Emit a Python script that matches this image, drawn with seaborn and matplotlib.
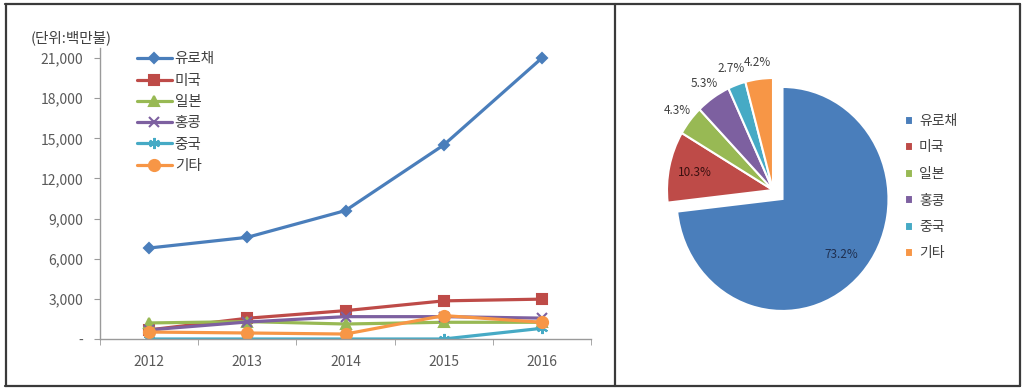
import matplotlib
matplotlib.use("Agg")
import matplotlib.pyplot as plt
from matplotlib.lines import Line2D
from matplotlib.ticker import FuncFormatter, FixedLocator
import numpy as np
import pandas as pd
import seaborn as sns

# Data (million USD)
years = ["2012", "2013", "2014", "2015", "2016"]
series_names = ["유로채", "미국", "일본", "홍콩", "중국", "기타"]
euro_bond = [6800, 7600, 9600, 14500, 21000]
usa = [680, 1550, 2120, 2850, 2980]
japan = [1200, 1300, 1120, 1250, 1250]
hongkong = [680, 1270, 1670, 1670, 1560]
china = [0, 0, 0, 0, 800]
others = [520, 450, 370, 1750, 1250]

# 2016 share (%)
share_labels = ["유로채", "미국", "일본", "홍콩", "중국", "기타"]
share_values = [73.2, 10.3, 4.3, 5.3, 2.7, 4.2]

COLORS = ["#4A7EBB", "#BE4B48", "#98B954", "#7D60A0", "#46AAC5", "#F79646"]
MARKERS = ["D", "s", "^", "x", (6, 2, 0), "o"]
MSIZES = [5, 7, 7, 7, 8, 8]

sns.set_style("white")
plt.rcParams["font.family"] = ["Noto Sans CJK KR", "DejaVu Sans"]

fig = plt.figure(figsize=(10.24, 3.92), dpi=100)

# ---- line chart ----
ax = fig.add_axes([100 / 1024, 1 - 339 / 392, 491 / 1024, 291 / 392])
df = pd.DataFrame(
    {
        "pos": np.tile(np.arange(len(years)), len(series_names)),
        "value": np.concatenate([euro_bond, usa, japan, hongkong, china, others]),
        "series": np.repeat(series_names, len(years)),
    }
)
for name, color, marker, ms in zip(series_names, COLORS, MARKERS, MSIZES):
    sub = df[df["series"] == name]
    sns.lineplot(
        data=sub, x="pos", y="value", ax=ax, color=color, linewidth=2.3,
        marker=marker, markersize=ms, markeredgecolor=color,
        markeredgewidth=1.5, label=name,
    )

ax.set_xlim(-0.5, len(years) - 0.5)
ax.set_ylim(0, 21750)
ax.set_xticks(range(len(years)))
ax.set_xticklabels(years)
ax.xaxis.set_minor_locator(FixedLocator(np.arange(-0.5, len(years), 1.0)))
ax.set_yticks(np.arange(0, 21001, 3000))
ax.yaxis.set_major_formatter(FuncFormatter(lambda v, p: "-" if v == 0 else f"{int(v):,}"))
ax.set_xlabel("")
ax.set_ylabel("")
for side in ["top", "right"]:
    ax.spines[side].set_visible(False)
for side in ["left", "bottom"]:
    ax.spines[side].set_color("#9A9A9A")
    ax.spines[side].set_linewidth(1.0)
ax.tick_params(axis="y", which="major", left=True, length=4, color="#9A9A9A",
               labelsize=10, labelcolor="#595959", pad=8)
ax.tick_params(axis="x", which="major", bottom=False, labelsize=10,
               labelcolor="#595959", pad=8)
ax.tick_params(axis="x", which="minor", bottom=True, length=4, color="#9A9A9A")
ax.legend(
    loc="upper left", bbox_to_anchor=(0.075, 0.985), frameon=False,
    fontsize=10.5, handlelength=2.4, handletextpad=0.2, labelspacing=0.5,
    borderpad=0, borderaxespad=0, labelcolor="#404040",
)
fig.text(31 / 1024, 1 - 38 / 392, "(단위:백만불)", fontsize=10.5,
         color="#404040", ha="left", va="center")

# ---- pie chart ----
pax = fig.add_axes([640.5 / 1024, 1 - 330 / 392, 265 / 1024, 280 / 392])
explode = [0.12, 0, 0, 0, 0, 0]
wedges, texts, autotexts = pax.pie(
    share_values, colors=COLORS, startangle=90, counterclock=False,
    explode=explode, autopct="%.1f%%", pctdistance=1.15,
    wedgeprops=dict(edgecolor="white", linewidth=1.5),
    textprops=dict(fontsize=8.5, color="#404040"),
)
for w, t in zip(wedges[:2], autotexts[:2]):
    ang = np.deg2rad((w.theta1 + w.theta2) / 2)
    cx, cy = w.center
    t.set_position((cx + 0.75 * np.cos(ang), cy + 0.75 * np.sin(ang)))
    t.set_color("#1F2F4F" if t is autotexts[0] else "#3A1010")
pax.set_xlim(-1.25, 1.25)
pax.set_ylim(-1.25, 1.25)
pax.set_aspect("auto")
pax.legend(
    wedges, share_labels, loc="upper left",
    bbox_to_anchor=(905 / 1024, 1 - 114 / 392), bbox_transform=fig.transFigure,
    frameon=False, fontsize=10, handlelength=0.6, handleheight=0.6,
    handletextpad=0.4, labelspacing=0.9, borderpad=0, borderaxespad=0,
    labelcolor="#404040",
)

# ---- frame ----
def hline(x0, x1, y):
    fig.add_artist(Line2D([x0 / 1024, x1 / 1024], [1 - y / 392] * 2,
                          color="#3A3A3A", linewidth=1.6))

def vline(x, y0, y1):
    fig.add_artist(Line2D([x / 1024] * 2, [1 - y0 / 392, 1 - y1 / 392],
                          color="#3A3A3A", linewidth=1.6))

hline(5, 1020, 4)
hline(5, 1020, 386)
vline(5.5, 4, 386)
vline(1020, 4, 386)
vline(615, 4, 386)

fig.savefig("out.png", dpi=100)
